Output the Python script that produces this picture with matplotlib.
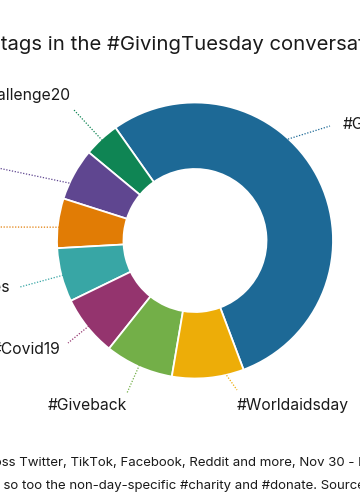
import numpy as np
import matplotlib
matplotlib.use("Agg")
import matplotlib.pyplot as plt

# share of hashtag mentions (%), in drawing order (counterclockwise from the big slice)
tags = ["#GivingTuesday", "#GivingTuesdayChallenge20", "#Charity", "#Donate",
        "#SmallBusinesses", "#Covid19", "#Giveback", "#Worldaidsday"]
share = [54.0, 4.2, 6.1, 5.8, 6.3, 7.1, 8.0, 8.4]
colors = ["#1D6996", "#0F8554", "#5F4690", "#E17C05",
          "#38A6A5", "#94346E", "#73AF48", "#EDAD08"]

title = "Top hashtags in the #GivingTuesday conversation"
caption1 = "Share of hashtag mentions across Twitter, TikTok, Facebook, Reddit and more, Nov 30 - Dec 2"
caption2 = "#Covid19 and #Worldaidsday featured, and so too the non-day-specific #charity and #donate. Source: Pulsar"

# layout (pixel space, y up)
cx, cy = 195, 259.5
r_out, r_in = 138, 71.5
# leader: anchor angle override (None = wedge middle), end point, text point, alignment
anchor_ang = [58.6, None, None, None, None, None, None, None]
lead_end = [(330, 374), (74, 390), (-2, 332), (-2, 273), (20, 213), (68, 157), (127, 107), (237, 110)]
lab_pos = [(343, 375), (71, 400), (-8, 332), (-8, 273), (10, 212), (60, 150), (127, 102), (237, 102)]
lab_ha = ["left", "right", "right", "right", "right", "right", "right", "left"]
lab_va = ["center", "baseline", "center", "center", "center", "center", "top", "top"]

plt.rcParams["font.family"] = ["Inter", "DejaVu Sans"]
fig = plt.figure(figsize=(3.6, 5), dpi=100)
ax = fig.add_axes([0, 0, 1, 1])

wedges, _ = ax.pie(share, colors=colors, center=(cx, cy), radius=r_out,
                   startangle=-69.4, counterclock=True,
                   wedgeprops=dict(width=r_out - r_in, edgecolor="white", linewidth=1.3))

for i, w in enumerate(wedges):
    a = anchor_ang[i]
    if a is None:
        a = (w.theta1 + w.theta2) / 2
    r_mid = (r_out + r_in) / 2
    x0 = cx + r_mid * np.cos(np.radians(a))
    y0 = cy + r_mid * np.sin(np.radians(a))
    x1, y1 = lead_end[i]
    ax.plot([x0, x1], [y0, y1], color=colors[i], lw=0.9, ls=(0, (1, 1.3)), zorder=3)
    ax.text(lab_pos[i][0], lab_pos[i][1], tags[i], ha=lab_ha[i], va=lab_va[i],
            fontsize=11.3, color="#1a1a1a")

ax.set_xlim(0, 360)
ax.set_ylim(0, 500)
ax.set_aspect("auto")
ax.axis("off")

# texts that run past the crop: place so the visible part lands where it should
renderer = fig.canvas.get_renderer()


def width_px(s, size):
    t = ax.text(0, 0, s, fontsize=size)
    w = t.get_window_extent(renderer).width
    t.remove()
    return w


ax.text(1 - width_px("Top hash", 14.6), 455, title, fontsize=14.6, va="center", color="#1a1a1a")
ax.text(2 - width_px("Share of hashtag mentions acro", 9.5), 37, caption1, fontsize=9.5, va="center", color="#1a1a1a")
ax.text(4 - width_px("#Covid19 and #Worldaidsday featured, and ", 9.5), 14, caption2, fontsize=9.5, va="center", color="#1a1a1a")

fig.savefig("out.png", dpi=100)
